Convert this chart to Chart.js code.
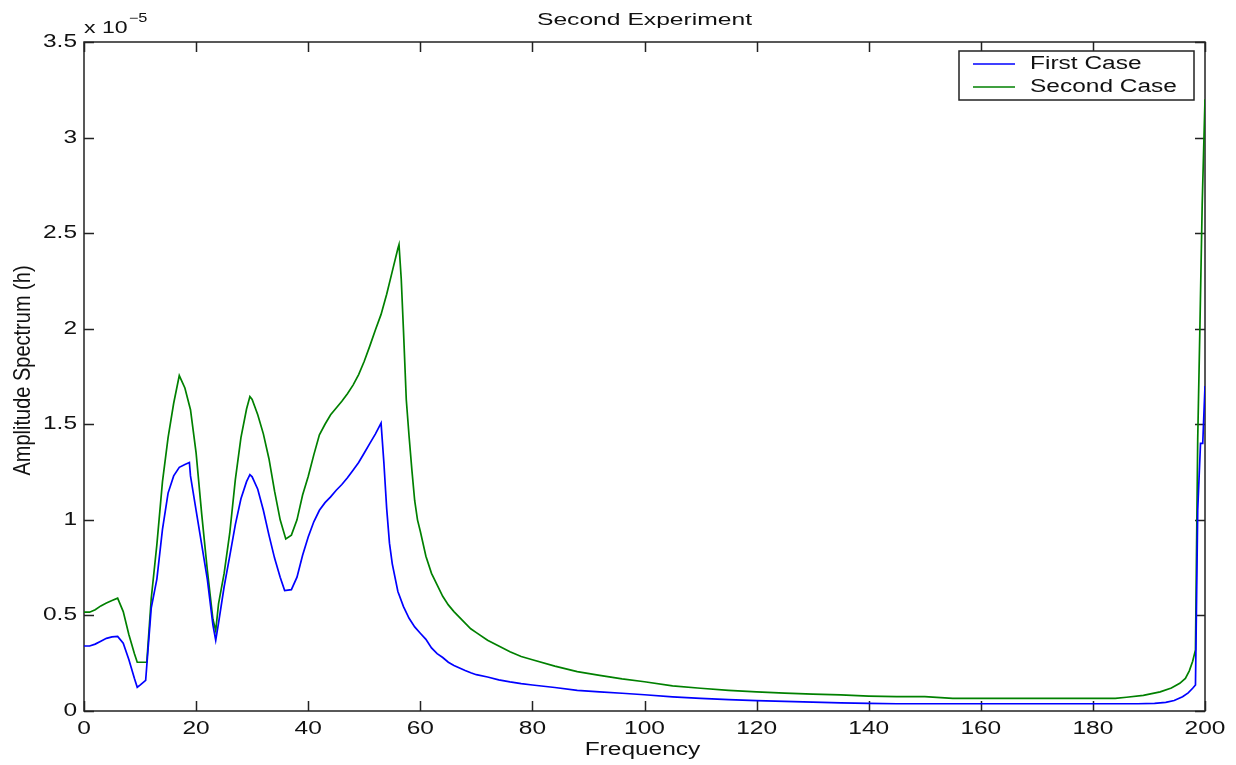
<!DOCTYPE html>
<html>
<head>
<meta charset="utf-8">
<script src="https://cdn.jsdelivr.net/npm/chart.js@4.4.1/dist/chart.umd.min.js"></script>
<style>
  html, body { margin: 0; padding: 0; background: #fff; }
  #wrap { width: 1236px; height: 765px; }
</style>
</head>
<body>
<div id="wrap"><canvas id="spectrum" width="1236" height="765"></canvas></div>
<script>
// --- data (amplitude in units of 1e-5) ---
const chartTitle = 'Second Experiment';
const xLabel = 'Frequency';
const yLabel = 'Amplitude Spectrum (h)';
const seriesNames = ['First Case', 'Second Case'];
const seriesColors = ['#0000ff', '#008000'];

const freqFirst = [0, 1, 2, 3, 4, 5, 6, 7, 8, 9, 9.5, 10, 11, 12, 13, 14, 15, 16, 17, 18, 18.8, 19, 20, 21, 22, 23, 23.5, 24, 25, 26, 27, 28, 29, 29.6, 30,
  31, 32, 33, 34, 35, 35.8, 37, 38, 39, 40, 41, 42, 43, 44, 45, 46, 47, 48, 49, 50, 51, 52, 53, 53.5, 54, 54.5, 55, 56, 57, 58, 59, 60,
  61, 62, 63, 64, 65, 66, 67, 68, 69, 70, 72, 74, 76, 78, 80, 84, 88, 92, 96, 100, 105, 110, 115, 120, 125, 130, 135, 140, 145, 150,
  160, 170, 180, 188, 191, 193, 194.5, 196, 197, 197.8, 198.3, 198.7, 199.2, 199.6, 200];
const ampFirst = [0.34, 0.34, 0.35, 0.365, 0.38, 0.388, 0.39, 0.355, 0.27, 0.17, 0.124, 0.135, 0.16, 0.54, 0.69, 0.95, 1.14, 1.23, 1.275, 1.29, 1.30, 1.23, 1.05, 0.87, 0.69, 0.45, 0.37, 0.46, 0.65, 0.81, 0.975, 1.11, 1.20, 1.236, 1.225,
  1.16, 1.05, 0.92, 0.80, 0.70, 0.63, 0.635, 0.70, 0.815, 0.91, 0.99, 1.05, 1.09, 1.12, 1.155, 1.185, 1.22, 1.26, 1.30, 1.35, 1.40, 1.45, 1.506, 1.30, 1.06, 0.878, 0.77, 0.625, 0.546, 0.485, 0.44, 0.407,
  0.375, 0.33, 0.30, 0.28, 0.255, 0.238, 0.225, 0.212, 0.20, 0.19, 0.178, 0.163, 0.152, 0.143, 0.136, 0.123, 0.108, 0.10, 0.093, 0.085, 0.074, 0.066, 0.059, 0.054, 0.050, 0.046, 0.043, 0.040, 0.038, 0.038,
  0.038, 0.038, 0.038, 0.038, 0.040, 0.045, 0.055, 0.075, 0.095, 0.119, 0.136, 1.05, 1.40, 1.40, 1.70];

const freqSecond = [0, 1, 2, 3, 4, 5, 6, 7, 8, 9, 9.5, 11.2, 12, 13, 14, 15, 16, 17, 18, 19, 20, 21, 22, 23, 23.5, 24, 25, 26, 27, 28, 29, 29.6, 30,
  31, 32, 33, 34, 35, 36, 37, 38, 39, 40, 41, 42, 43, 44, 45, 46, 47, 48, 49, 50, 51, 52, 53, 54, 55, 56, 56.2, 56.6, 57, 57.5, 58, 58.5, 59, 59.5, 60,
  61, 62, 63, 64, 65, 66, 67, 68, 69, 70, 72, 74, 76, 78, 80, 84, 88, 92, 96, 100, 105, 110, 115, 120, 125, 130, 135, 140, 145, 150,
  155, 170, 184, 186, 189, 192, 194, 195.5, 196.5, 197.2, 197.8, 198.3, 198.7, 199.1, 199.5, 200];
const ampSecond = [0.517, 0.517, 0.53, 0.55, 0.565, 0.578, 0.59, 0.52, 0.40, 0.30, 0.255, 0.255, 0.59, 0.87, 1.20, 1.43, 1.61, 1.755, 1.69, 1.576, 1.35, 1.03, 0.738, 0.48, 0.42, 0.56, 0.72, 0.93, 1.21, 1.43, 1.58, 1.645, 1.63,
  1.55, 1.45, 1.32, 1.15, 1.00, 0.90, 0.92, 1.00, 1.13, 1.227, 1.34, 1.445, 1.50, 1.55, 1.585, 1.62, 1.66, 1.705, 1.76, 1.83, 1.91, 1.995, 2.075, 2.18, 2.30, 2.42, 2.44, 2.26, 1.99, 1.628, 1.436, 1.26, 1.10, 1.00, 0.94,
  0.81, 0.72, 0.66, 0.60, 0.555, 0.52, 0.49, 0.46, 0.43, 0.41, 0.37, 0.34, 0.31, 0.285, 0.268, 0.235, 0.206, 0.186, 0.168, 0.153, 0.131, 0.119, 0.108, 0.100, 0.094, 0.088, 0.084, 0.078, 0.075, 0.075,
  0.066, 0.066, 0.066, 0.072, 0.082, 0.10, 0.12, 0.145, 0.17, 0.21, 0.26, 0.32, 1.42, 2.02, 2.65, 3.2];

const xTicks = { min: 0, max: 200, step: 20 };
const yTicks = { min: 0, max: 3.5, step: 0.5 };

const FONT = '"Liberation Sans", Arial, Helvetica, sans-serif';
const TEXT = '#111';
const STRETCH = 1.36; // the source picture is widened horizontally

function toPoints(xs, ys) {
  return xs.map((x, i) => ({ x: x, y: ys[i] }));
}

// draws text widened horizontally, like the reference
function wideText(ctx, str, x, y, align, size, sx) {
  ctx.save();
  ctx.font = size + 'px ' + FONT;
  const w = ctx.measureText(str).width * sx;
  let left = x;
  if (align === 'center') left = x - w / 2;
  else if (align === 'right') left = x - w;
  ctx.translate(left, y);
  ctx.scale(sx, 1);
  ctx.textAlign = 'left';
  ctx.fillText(str, 0, 0);
  ctx.restore();
  return w;
}

// box, inward ticks, all text and the legend (MATLAB look)
const matlabAxes = {
  id: 'matlabAxes',
  beforeDatasetsDraw(chart) {
    const { ctx, chartArea: a, scales } = chart;
    const len = 10;
    ctx.save();
    ctx.strokeStyle = '#222';
    ctx.lineWidth = 1.5;
    ctx.strokeRect(a.left, a.top, a.right - a.left, a.bottom - a.top);
    ctx.beginPath();
    scales.x.ticks.forEach(t => {
      const px = Math.round(scales.x.getPixelForValue(t.value)) + 0.5;
      ctx.moveTo(px, a.bottom); ctx.lineTo(px, a.bottom - len);
      ctx.moveTo(px, a.top); ctx.lineTo(px, a.top + len);
    });
    scales.y.ticks.forEach(t => {
      const py = Math.round(scales.y.getPixelForValue(t.value)) + 0.5;
      ctx.moveTo(a.left, py); ctx.lineTo(a.left + len, py);
      ctx.moveTo(a.right, py); ctx.lineTo(a.right - len, py);
    });
    ctx.stroke();

    ctx.fillStyle = TEXT;
    ctx.textBaseline = 'middle';
    scales.x.ticks.forEach(t => {
      wideText(ctx, String(t.value), scales.x.getPixelForValue(t.value), a.bottom + 18, 'center', 18, STRETCH);
    });
    scales.y.ticks.forEach(t => {
      wideText(ctx, String(t.value), a.left - 7, scales.y.getPixelForValue(t.value), 'right', 18, STRETCH);
    });

    wideText(ctx, chartTitle, (a.left + a.right) / 2, 20, 'center', 17, 1.45);
    wideText(ctx, xLabel, (a.left + a.right) / 2 - 2, a.bottom + 39, 'center', 18, STRETCH);

    // y title, rotated
    ctx.save();
    ctx.translate(23, (a.top + a.bottom) / 2 - 6);
    ctx.rotate(-Math.PI / 2);
    ctx.font = '20px ' + FONT;
    ctx.textAlign = 'center';
    ctx.scale(1, 1.2);
    ctx.fillText(yLabel, 0, 0);
    ctx.restore();

    ctx.textBaseline = 'alphabetic';
    const w = wideText(ctx, 'x 10', a.left, 33, 'left', 17, STRETCH);
    wideText(ctx, '\u22125', a.left + w + 1, 22, 'left', 12, STRETCH);
    ctx.restore();
  },
  afterDatasetsDraw(chart) {
    const { ctx } = chart;
    const bx = 959, by = 51, bw = 235, bh = 49;
    ctx.save();
    ctx.fillStyle = '#fff';
    ctx.fillRect(bx, by, bw, bh);
    ctx.strokeStyle = '#222';
    ctx.lineWidth = 1.5;
    ctx.strokeRect(bx, by, bw, bh);
    ctx.textBaseline = 'middle';
    chart.data.datasets.forEach((ds, i) => {
      const cy = by + 13 + i * 23;
      ctx.strokeStyle = ds.borderColor;
      ctx.lineWidth = 1.5;
      ctx.beginPath();
      ctx.moveTo(bx + 14, cy); ctx.lineTo(bx + 56, cy);
      ctx.stroke();
      ctx.fillStyle = TEXT;
      wideText(ctx, ds.label, bx + 71, cy, 'left', 18, STRETCH);
    });
    ctx.restore();
  }
};

new Chart(document.getElementById('spectrum'), {
  type: 'line',
  data: {
    datasets: [
      { label: seriesNames[0], data: toPoints(freqFirst, ampFirst), borderColor: seriesColors[0] },
      { label: seriesNames[1], data: toPoints(freqSecond, ampSecond), borderColor: seriesColors[1] }
    ]
  },
  options: {
    responsive: false,
    animation: false,
    layout: { padding: { top: 42, right: 31, left: 0, bottom: 0 } },
    elements: {
      line: { borderWidth: 1.7, tension: 0, fill: false },
      point: { radius: 0 }
    },
    plugins: {
      legend: { display: false },
      title: { display: false },
      tooltip: { enabled: false }
    },
    scales: {
      x: {
        type: 'linear',
        min: xTicks.min, max: xTicks.max,
        grid: { display: false, drawTicks: false },
        border: { display: false },
        ticks: { stepSize: xTicks.step, display: false },
        afterFit(scale) { scale.height = 54; }
      },
      y: {
        min: yTicks.min, max: yTicks.max,
        grid: { display: false, drawTicks: false },
        border: { display: false },
        ticks: { stepSize: yTicks.step, display: false },
        afterFit(scale) { scale.width = 84; }
      }
    }
  },
  plugins: [matlabAxes]
});
</script>
</body>
</html>
